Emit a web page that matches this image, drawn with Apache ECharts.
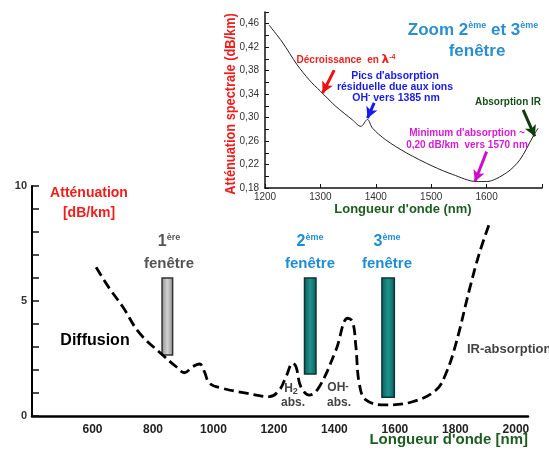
<!DOCTYPE html>
<html><head><meta charset="utf-8">
<script src="https://cdn.jsdelivr.net/npm/echarts@6/dist/echarts.min.js"></script>
<style>html,body{margin:0;padding:0;background:#fff}#c{width:549px;height:450px}</style>
</head><body><div id="c"></div>
<script>
// ---- main chart data ----
const mainWavelength = [612,656,700,755,832,877,904,931,954,970,987,1031,1108,1185,1218,1240,1262,1273,1289,1317,1350,1405,1444,1460,1471,1482,1504,1570,1658,1736,1769,1802,1846,1879,1912];
const mainAtten = [6.47,5.55,4.75,3.61,2.65,2.14,1.88,2.14,2.26,1.93,1.42,1.20,0.99,0.84,1.13,1.71,2.29,2.14,1.27,0.91,1.27,2.87,4.25,4.10,3.01,1.42,0.70,0.48,0.62,1.13,1.86,3.16,5.48,7.07,8.35];
const mainXTicks = [600,800,1000,1200,1400,1600,1800,2000];
const mainYTicks = [0,5,10];
// transmission windows
const windowStart = [830,1301,1557];
const windowEnd = [865,1339,1598];
const windowBottom = [2.65,1.83,0.81];
const windowTop = [6.0,6.0,6.0];
// ---- inset data ----
const insetWavelength = [1207,1231,1258,1280,1300,1328,1358,1373,1385,1394,1418,1455,1503,1539,1581,1600,1636,1660,1684,1693];
const insetAtten = [0.458,0.429,0.390,0.364,0.345,0.319,0.296,0.285,0.297,0.282,0.262,0.240,0.217,0.203,0.191,0.191,0.206,0.228,0.268,0.282];
const insetXTicks = [1200,1300,1400,1500,1600];
const insetYTicks = [0.18,0.22,0.26,0.30,0.34,0.38,0.42,0.46];
// inset arrows
const arrowFromX = [1325,1397,1600,1666];
const arrowFromY = [0.381,0.325,0.242,0.313];
const arrowToX = [1304,1385,1579,1687];
const arrowToY = [0.342,0.299,0.191,0.268];

const arrowColors = ['#ee1111','#1a1aee','#cc11cc','#0d3d0d'];
const winFill = [
  {type:'linear',x:0,y:0,x2:1,y2:0,colorStops:[{offset:0,color:'#8a8a8a'},{offset:0.5,color:'#d2d2d2'},{offset:1,color:'#8a8a8a'}]},
  {type:'linear',x:0,y:0,x2:1,y2:0,colorStops:[{offset:0,color:'#0e5b58'},{offset:0.5,color:'#1d928d'},{offset:1,color:'#0e5b58'}]},
  {type:'linear',x:0,y:0,x2:1,y2:0,colorStops:[{offset:0,color:'#0e5b58'},{offset:0.5,color:'#1d928d'},{offset:1,color:'#0e5b58'}]}
];
const winStroke = ['#333','#0a3535','#0a3535'];

const FF = '"Liberation Sans", Arial, sans-serif';
const chart = echarts.init(document.getElementById('c'), null, {renderer:'canvas'});

function t(x,y,text,opt){
  return Object.assign({type:'text', z:50, style:Object.assign({x:x,y:y,text:text,align:'center',verticalAlign:'middle',fontFamily:FF,fontWeight:'bold',fontSize:11,fill:'#000'}, opt||{})});
}
const red='#f01d1d', blue='#1f8dd6', grn='#1d5e20';
const supR = (c,s)=>({fontSize:s,fontWeight:'bold',fill:c,fontFamily:FF,verticalAlign:'top',lineHeight:18});
const mainR = (c,s)=>({fontSize:s,fontWeight:'bold',fill:c,fontFamily:FF,lineHeight:18});

const graphics = [
  t(89,193,'Atténuation',{fill:red,fontSize:14}),
  t(89,213,'[dB/km]',{fill:red,fontSize:14}),
  t(169,242,'{a|1}{s|ère}',{rich:{a:mainR('#555',16),s:supR('#555',9)}}),
  t(169,264,'fenêtre',{fill:'#555',fontSize:15}),
  t(310,242,'{a|2}{s|ème}',{rich:{a:mainR(blue,16),s:supR(blue,9)}}),
  t(310,264,'fenêtre',{fill:blue,fontSize:15}),
  t(387,242,'{a|3}{s|ème}',{rich:{a:mainR(blue,16),s:supR(blue,9)}}),
  t(387,264,'fenêtre',{fill:blue,fontSize:15}),
  t(95,341,'Diffusion',{fontSize:16}),
  t(291,389,'{a|H}{b|2}',{rich:{a:{fontSize:12,fontWeight:'bold',fill:'#444',fontFamily:FF,lineHeight:14},b:{fontSize:9,fontWeight:'bold',fill:'#444',fontFamily:FF,verticalAlign:'bottom',lineHeight:14}}}),
  t(293,403,'abs.',{fill:'#444',fontSize:12}),
  t(338,388,'{a|OH}{b|-}',{rich:{a:{fontSize:12,fontWeight:'bold',fill:'#444',fontFamily:FF,lineHeight:14},b:{fontSize:10,fontWeight:'bold',fill:'#444',fontFamily:FF,verticalAlign:'top',lineHeight:14}}}),
  t(339,403,'abs.',{fill:'#444',fontSize:12}),
  t(467,349,'IR-absorption',{fill:'#444',fontSize:13,align:'left'}),
  t(528,440,"Longueur d'onde [nm]",{fill:grn,fontSize:15,align:'right'}),
  // inset texts
  t(403,209,"Longueur d'onde (nm)",{fill:grn,fontSize:13}),
  t(473,30,'{a|Zoom 2}{s|ème}{a| et 3}{s|ème}',{rich:{a:mainR('#2a8fcf',17),s:supR('#2a8fcf',9)}}),
  t(477,51,'fenêtre',{fill:'#2a8fcf',fontSize:17}),
  t(346,60,'{a|Décroissance  en }{b|λ}{s|-4}',{rich:{a:{fontSize:10,fontWeight:'bold',fill:red,fontFamily:FF,lineHeight:13},b:{fontSize:12,fontWeight:'bold',fill:red,fontFamily:'"DejaVu Sans",sans-serif',lineHeight:13},s:{fontSize:7,fontWeight:'bold',fill:red,fontFamily:FF,verticalAlign:'top',lineHeight:13}}}),
  t(395,76,"Pics d'absorption",{fill:'#1a1ae6',fontSize:10.5}),
  t(395,87,'résiduelle due aux ions',{fill:'#1a1ae6',fontSize:10.5}),
  t(396,98,'{a|OH}{s|-}{a| vers 1385 nm}',{rich:{a:{fontSize:10.5,fontWeight:'bold',fill:'#1a1ae6',fontFamily:FF,lineHeight:13},s:{fontSize:7,fontWeight:'bold',fill:'#1a1ae6',fontFamily:FF,verticalAlign:'top',lineHeight:13}}}),
  t(508,102,'Absorption IR',{fill:'#1a4d1a',fontSize:10}),
  t(467,133,"Minimum d'absorption ~",{fill:'#d61ad6',fontSize:10}),
  t(467,145,'0,20 dB/km  vers 1570 nm',{fill:'#d61ad6',fontSize:10}),
  {type:'text', z:50, x:231, y:104, rotation:Math.PI/2, scaleX:0.88,
   style:{x:0,y:0,text:'Atténuation spectrale (dB/km)',align:'center',verticalAlign:'middle',fontFamily:FF,fontWeight:'bold',fontSize:14.5,fill:red}}
];

const option = {
  animation:false,
  backgroundColor:'#fff',
  grid:[
    {left:32, right:21, top:186, bottom:34},
    {left:265, right:7, top:12, bottom:262}
  ],
  xAxis:[
    {gridIndex:0, type:'value', min:400, max:2040, interval:200,
     axisLine:{lineStyle:{color:'#000',width:2.5}}, axisTick:{show:false}, splitLine:{show:false},
     axisLabel:{margin:8, color:'#222', fontWeight:'bold', fontSize:12, fontFamily:FF,
       formatter:v=> mainXTicks.indexOf(v)>=0 ? String(v) : ''}},
    {gridIndex:1, type:'value', min:1200, max:1700, interval:100,
     axisLine:{lineStyle:{color:'#111',width:1.5}}, axisTick:{inside:true,length:4,lineStyle:{color:'#111'}}, splitLine:{show:false},
     axisLabel:{margin:4, color:'#333', fontSize:10, fontFamily:FF,
       formatter:v=> insetXTicks.indexOf(v)>=0 ? String(v) : ''}}
  ],
  yAxis:[
    {gridIndex:0, type:'value', min:0, max:10, interval:1,
     axisLine:{show:true,lineStyle:{color:'#000',width:2}}, axisTick:{show:true,inside:true,length:7,lineStyle:{color:'#111',width:1.5}}, splitLine:{show:false},
     axisLabel:{margin:5, color:'#333', fontWeight:'bold', fontSize:11, fontFamily:FF,
       formatter:v=> mainYTicks.indexOf(v)>=0 ? String(v) : ''}},
    {gridIndex:1, type:'value', min:0.18, max:0.48, interval:0.02,
     axisLine:{show:true,lineStyle:{color:'#111',width:1.5}}, axisTick:{show:true,inside:true,length:4,lineStyle:{color:'#111'}}, splitLine:{show:false},
     axisLabel:{margin:6, color:'#333', fontSize:10, fontFamily:FF,
       formatter:v=>{ const m = insetYTicks.find(k=>Math.abs(k-v)<1e-6); return m===undefined ? '' : m.toFixed(2).replace('.',','); }}}
  ],
  graphic: graphics,
  series:[
    {type:'custom', xAxisIndex:0, yAxisIndex:0, z:3,
     data: windowStart.map((s,i)=>[s, windowEnd[i], windowBottom[i], windowTop[i], i]),
     encode:{x:[0,1], y:[2,3]},
     renderItem:(params, api)=>{
       const p0 = api.coord([api.value(0), api.value(3)]);
       const p1 = api.coord([api.value(1), api.value(2)]);
       const i = api.value(4);
       return {type:'rect', shape:{x:p0[0], y:p0[1], width:p1[0]-p0[0], height:p1[1]-p0[1]},
               style:{fill:winFill[i], stroke:winStroke[i], lineWidth:1.5}};
     }},
    {type:'line', xAxisIndex:0, yAxisIndex:0, z:4,
     data: mainWavelength.map((w,i)=>[w, mainAtten[i]]),
     smooth:0.4, showSymbol:false, symbol:'none',
     lineStyle:{color:'#000', width:2.8, type:[10,5]}},
    {type:'line', xAxisIndex:1, yAxisIndex:1, z:4,
     data: insetWavelength.map((w,i)=>[w, insetAtten[i]]),
     smooth:0.3, showSymbol:false, symbol:'none',
     lineStyle:{color:'#222', width:1},
     markLine:{silent:true, symbol:['none','arrow'], symbolSize:[9,11], label:{show:false},
       data: arrowFromX.map((x,i)=>[
         {coord:[x, arrowFromY[i]], lineStyle:{color:arrowColors[i], width:3, type:'solid'}, itemStyle:{color:arrowColors[i]}},
         {coord:[arrowToX[i], arrowToY[i]]}
       ])}}
  ]
};
chart.setOption(option);
</script></body></html>
